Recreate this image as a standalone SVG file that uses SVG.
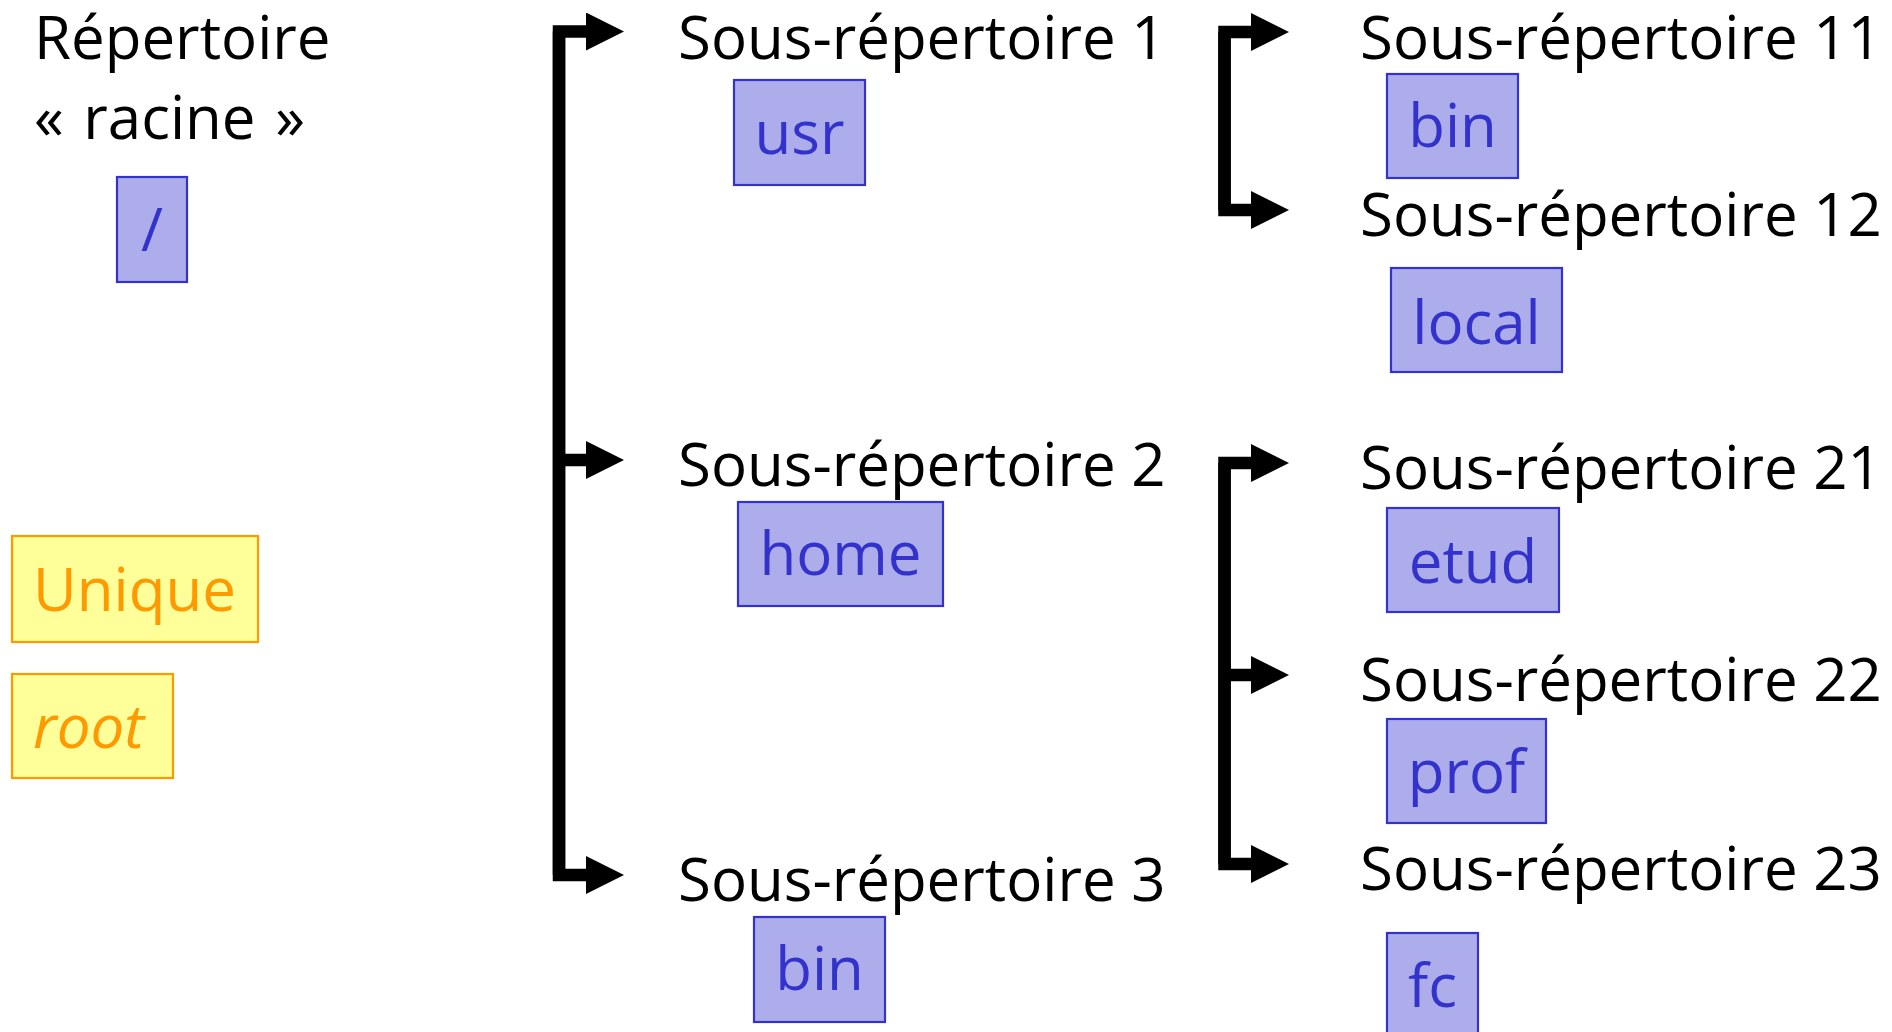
<svg xmlns="http://www.w3.org/2000/svg" width="1892" height="1032" viewBox="0 0 1892 1032">
  <style>
    .lbl { font-family: "Open Sans", "Noto Sans", sans-serif; font-size: 60px; fill: #000000; }
    .dir rect { fill: #ADADEB; stroke: #3333CC; stroke-width: 2.2; }
    .dir text { font-family: "Open Sans", "Noto Sans", sans-serif; font-size: 60px; fill: #3333CC; text-anchor: middle; }
    .note rect { fill: #FFFF99; stroke: #FF9900; stroke-width: 2.2; }
    .note text { font-family: "Open Sans", "Noto Sans", sans-serif; font-size: 60px; fill: #FF9900; }
    .link { fill: none; stroke: #000000; stroke-width: 12.5; stroke-linejoin: miter; stroke-linecap: butt; marker-end: url(#head); }
  </style>
  <defs>
    <marker id="head" viewBox="0 0 38 38" markerWidth="38" markerHeight="38" refX="2" refY="19" orient="auto" markerUnits="userSpaceOnUse">
      <path d="M0,0 L38,19 L0,38 Z" fill="#000000"/>
    </marker>
  </defs>

  <!-- connectors -->
  <g id="connectors">
    <path class="link" d="M559,875 V31.5 H588"/>
    <path class="link" d="M559,460 H588"/>
    <path class="link" d="M559,31.5 V875 H588"/>

    <path class="link" d="M1224.5,210 V32 H1253"/>
    <path class="link" d="M1224.5,32 V210 H1253"/>

    <path class="link" d="M1224.5,864 V463 H1253"/>
    <path class="link" d="M1224.5,675 H1253"/>
    <path class="link" d="M1224.5,463 V864 H1253"/>
  </g>

  <!-- root directory -->
  <g id="root-dir">
    <text class="lbl" x="34" y="59">Répertoire</text>
    <text class="lbl" x="34" y="139" word-spacing="4">« racine »</text>
    <g class="dir">
      <rect x="117" y="177" width="70" height="105"/>
      <text x="152" y="251">/</text>
    </g>
  </g>

  <!-- notes about the root -->
  <g id="note-unique" class="note">
    <rect x="12" y="536" width="246" height="106"/>
    <text x="33" y="611">Unique</text>
  </g>
  <g id="note-root" class="note">
    <rect x="12" y="674" width="161" height="104"/>
    <text x="33" y="748" font-style="italic">root</text>
  </g>

  <!-- level 1 -->
  <g id="sub-1">
    <text class="lbl" x="678" y="59">Sous-répertoire 1</text>
    <g class="dir">
      <rect x="734" y="80" width="131" height="105"/>
      <text x="799.5" y="154">usr</text>
    </g>
  </g>
  <g id="sub-2">
    <text class="lbl" x="678" y="486">Sous-répertoire 2</text>
    <g class="dir">
      <rect x="738" y="502" width="205" height="104"/>
      <text x="840.5" y="575">home</text>
    </g>
  </g>
  <g id="sub-3">
    <text class="lbl" x="678" y="901">Sous-répertoire 3</text>
    <g class="dir">
      <rect x="754" y="917" width="131" height="105"/>
      <text x="819.5" y="990">bin</text>
    </g>
  </g>

  <!-- level 2 under usr -->
  <g id="sub-11">
    <text class="lbl" x="1360" y="59">Sous-répertoire 11</text>
    <g class="dir">
      <rect x="1387" y="74" width="131" height="104"/>
      <text x="1452.5" y="147">bin</text>
    </g>
  </g>
  <g id="sub-12">
    <text class="lbl" x="1360" y="236">Sous-répertoire 12</text>
    <g class="dir">
      <rect x="1391" y="268" width="171" height="104"/>
      <text x="1476.5" y="344">local</text>
    </g>
  </g>

  <!-- level 2 under home -->
  <g id="sub-21">
    <text class="lbl" x="1360" y="489">Sous-répertoire 21</text>
    <g class="dir">
      <rect x="1387" y="508" width="172" height="104"/>
      <text x="1473" y="583">etud</text>
    </g>
  </g>
  <g id="sub-22">
    <text class="lbl" x="1360" y="701">Sous-répertoire 22</text>
    <g class="dir">
      <rect x="1387" y="719" width="159" height="104"/>
      <text x="1466.5" y="793">prof</text>
    </g>
  </g>
  <g id="sub-23">
    <text class="lbl" x="1360" y="890">Sous-répertoire 23</text>
    <g class="dir">
      <rect x="1387" y="933" width="91" height="104"/>
      <text x="1432.5" y="1007">fc</text>
    </g>
  </g>
</svg>
